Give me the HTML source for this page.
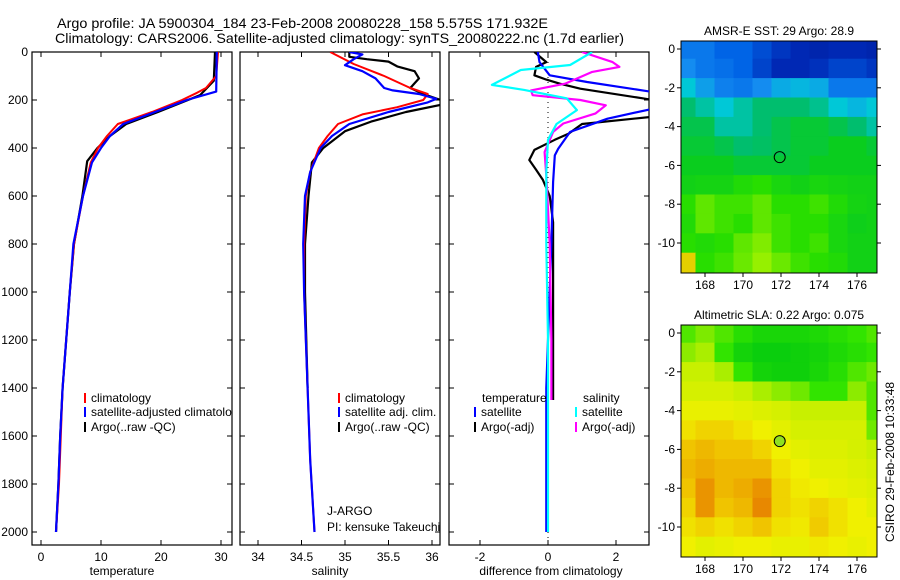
<!DOCTYPE html>
<html><head><meta charset="utf-8"><style>
html,body{margin:0;padding:0;background:#fff}
svg{display:block;font-family:"Liberation Sans",sans-serif}
</style></head><body>
<svg id="fig" width="900" height="580" viewBox="0 0 900 580" xmlns="http://www.w3.org/2000/svg">
<text x="57" y="28" font-size="14" textLength="491" lengthAdjust="spacingAndGlyphs">Argo profile: JA 5900304_184 23-Feb-2008 20080228_158 5.575S 171.932E</text>
<text x="55" y="43" font-size="14" textLength="569" lengthAdjust="spacingAndGlyphs">Climatology: CARS2006. Satellite-adjusted climatology: synTS_20080222.nc (1.7d earlier)</text>
<g id="plots"></g>
<text transform="translate(894,462) rotate(-90)" font-size="12" text-anchor="middle">CSIRO 29-Feb-2008 10:33:48</text>
</svg>
<script>
// ---- profile data (depth dbar, value) ----
const tempClimDepth=[0,100,150,170,200,250,300,350,400,460,600,800,1000,1200,1400,1600,1800,2000];
const tempClimVal=[29.5,29.2,27.5,26,23.5,18.5,12.8,11,9.5,8.3,7,5.5,4.8,4.2,3.6,3.3,3,2.5];
const tempSatDepth=[0,165,200,250,300,350,400,460,600,800,1000,1200,1400,1600,1800,2000];
const tempSatVal=[29.3,29.2,24.3,19,13.7,11.5,10,8.5,7,5.4,4.8,4.2,3.6,3.2,2.9,2.5];
const tempArgoDepth=[0,120,180,200,250,300,350,400,455,600,800,1000,1200,1400,1600,1800,2000];
const tempArgoVal=[29,28.8,26.5,24.5,19.5,14.2,11.5,9.4,7.7,6.9,5.5,4.8,4.2,3.6,3.2,2.9,2.5];

const salClimDepth=[0,50,100,150,175,200,230,260,300,350,400,500,600,800,1000,1400,1700,2000];
const salClimVal=[34.83,35.1,35.45,35.75,35.95,35.9,35.6,35.2,34.92,34.8,34.7,34.6,34.55,34.53,34.53,34.57,34.6,34.65];
const salSatDepth=[0,10,30,55,80,110,150,160,175,195,210,250,300,350,400,500,600,800,1000,1400,1700,2000];
const salSatVal=[35.05,35.2,35.1,35.0,35.2,35.35,35.45,35.55,35.85,36.05,35.95,35.5,35.05,34.85,34.72,34.6,34.54,34.52,34.53,34.57,34.6,34.65];
const salArgoDepth=[0,20,30,40,60,80,110,150,175,200,220,250,290,330,400,460,600,800,1000,1400];
const salArgoVal=[35.05,35.05,35.25,35.5,35.6,35.8,35.85,35.75,35.9,36.1,36.1,35.7,35.3,35.0,34.75,34.62,34.58,34.54,34.54,34.57];

const dTempSatDepth=[0,42,97,125,167,236,278,333,403,431,542,792,1000,1400,2000];
const dTempSatVal=[-0.3,-0.25,0.05,1.15,3.1,3.1,1.75,0.65,0.3,0.2,0.15,0.1,0.05,-0.05,-0.05];
const dTempArgoDepth=[0,42,62,97,115,132,153,200,271,300,341,366,408,450,491,533,600,710,1000,1450];
const dTempArgoVal=[-0.4,-0.05,-0.35,-0.4,-0.05,0.35,0.95,3.1,3.0,1.0,0.6,0.2,-0.4,-0.55,-0.35,-0.15,0.05,0.15,0.15,0.15];
const dSalSatDepth=[0,54,75,137,158,193,242,300,366,500,800,1200,1600,2000];
const dSalSatVal=[1.3,0.65,-0.8,-1.65,-0.7,0.55,0.85,0.25,0,-0.05,-0.05,0,0,0];
const dSalArgoDepth=[0,42,62,83,132,160,180,200,222,256,298,333,417,514,800,1200,1450];
const dSalArgoVal=[1.0,1.9,2.1,1.3,0.5,-0.5,-0.45,0.95,1.7,1.4,0.45,0.15,-0.1,-0.05,0.05,0.1,0.1];

const depthTicks=[0,200,400,600,800,1000,1200,1400,1600,1800,2000];
const tempTicks=[0,10,20,30];
const salTicks=[34,34.5,35,35.5,36];
const diffTicks=[-2,0,2];

// ---- map data (1-degree cells, rows lat 0..-11, cols lon 167..177), normalised colour value ----
const mapLons=[167,168,169,170,171,172,173,174,175,176,177];
const mapLats=[0,-1,-2,-3,-4,-5,-6,-7,-8,-9,-10,-11];
const sstGrid=[
[0.3,0.3,0.25,0.25,0.2,0.15,0.12,0.1,0.12,0.12,0.1],
[0.35,0.3,0.28,0.25,0.18,0.12,0.12,0.14,0.18,0.18,0.15],
[0.45,0.38,0.32,0.3,0.35,0.4,0.42,0.4,0.3,0.3,0.3],
[0.55,0.5,0.45,0.5,0.55,0.55,0.55,0.52,0.45,0.42,0.45],
[0.58,0.58,0.5,0.5,0.55,0.58,0.6,0.6,0.58,0.55,0.5],
[0.6,0.6,0.58,0.55,0.56,0.58,0.6,0.6,0.62,0.62,0.6],
[0.62,0.62,0.62,0.6,0.6,0.6,0.6,0.62,0.62,0.62,0.62],
[0.64,0.65,0.65,0.68,0.7,0.66,0.64,0.66,0.65,0.64,0.64],
[0.7,0.75,0.72,0.72,0.75,0.7,0.7,0.72,0.68,0.65,0.64],
[0.68,0.75,0.72,0.7,0.75,0.72,0.7,0.7,0.66,0.63,0.64],
[0.7,0.68,0.7,0.75,0.78,0.72,0.7,0.72,0.66,0.64,0.64],
[0.92,0.7,0.72,0.76,0.8,0.76,0.72,0.7,0.68,0.64,0.64]];
const slaGrid=[
[0.72,0.75,0.72,0.68,0.65,0.65,0.65,0.66,0.68,0.7,0.72],
[0.76,0.78,0.7,0.64,0.62,0.62,0.63,0.64,0.66,0.68,0.7],
[0.8,0.8,0.78,0.7,0.64,0.63,0.63,0.65,0.68,0.72,0.74],
[0.82,0.82,0.82,0.8,0.78,0.76,0.74,0.7,0.7,0.76,0.72],
[0.85,0.85,0.85,0.84,0.83,0.82,0.8,0.8,0.8,0.8,0.72],
[0.88,0.9,0.9,0.88,0.86,0.84,0.82,0.82,0.82,0.82,0.74],
[0.92,0.93,0.92,0.92,0.9,0.86,0.84,0.83,0.83,0.82,0.8],
[0.93,0.94,0.93,0.93,0.93,0.88,0.86,0.84,0.84,0.83,0.82],
[0.92,0.96,0.93,0.94,0.96,0.9,0.87,0.86,0.85,0.84,0.83],
[0.9,0.96,0.92,0.93,0.97,0.9,0.88,0.9,0.88,0.86,0.84],
[0.88,0.9,0.88,0.9,0.92,0.88,0.87,0.91,0.88,0.86,0.86],
[0.86,0.84,0.85,0.86,0.86,0.85,0.85,0.87,0.86,0.85,0.86]];
const lonTicks=[168,170,172,174,176];
const latTicks=[0,-2,-4,-6,-8,-10];
const floatLon=171.932, floatLat=-5.575;

const NS='http://www.w3.org/2000/svg';
const root=document.getElementById('plots');
function mk(tag,attrs,parent){const e=document.createElementNS(NS,tag);for(const k in attrs)e.setAttribute(k,attrs[k]);(parent||root).appendChild(e);return e;}

const yD=d=>52+0.24*d;
const PT=52,PB=545;
const panels=[
 {x0:32,x1:232,sx:v=>41+6*v,ticks:tempTicks,label:'temperature',name:'temperature-panel'},
 {x0:240,x1:440,sx:v=>258+87*(v-34),ticks:salTicks,label:'salinity',name:'salinity-panel'},
 {x0:449,x1:649,sx:v=>548+34*v,ticks:diffTicks,label:'difference from climatology',name:'difference-panel'}
];
function line(depths,vals,sx,color,w,name,g,clip){
  const pts=depths.map((d,i)=>sx(vals[i]).toFixed(1)+','+yD(d).toFixed(1)).join(' ');
  const p=mk('polyline',{points:pts,fill:'none',stroke:color,'stroke-width':w,'stroke-linejoin':'round'},g);
  if(clip)p.setAttribute('clip-path',clip);
  
  
}
const defs=mk('defs',{});
panels.forEach((P,i)=>{
  const cp=mk('clipPath',{id:'cp'+i},defs);mk('rect',{x:P.x0,y:PT,width:P.x1-P.x0,height:PB-PT},cp);
});
panels.forEach((P,i)=>{
  const g=mk('g',{});
  
  
  mk('rect',{x:P.x0,y:PT,width:P.x1-P.x0,height:PB-PT,fill:'#fff',stroke:'#000','stroke-width':1.2},g);
  depthTicks.forEach(d=>{
    mk('line',{x1:P.x0,x2:P.x0+5,y1:yD(d),y2:yD(d),stroke:'#000'},g);
    mk('line',{x1:P.x1-5,x2:P.x1,y1:yD(d),y2:yD(d),stroke:'#000'},g);
    if(i===0){const t=mk('text',{x:28,y:yD(d)+4,'font-size':12,'text-anchor':'end'},g);t.textContent=d;
      }
  });
  P.ticks.forEach(v=>{
    const x=P.sx(v);
    mk('line',{x1:x,x2:x,y1:PB,y2:PB-5,stroke:'#000'},g);
    mk('line',{x1:x,x2:x,y1:PT,y2:PT+5,stroke:'#000'},g);
    const t=mk('text',{x:x,y:PB+16,'font-size':12,'text-anchor':'middle'},g);t.textContent=v;
    
  });
  const t=mk('text',{x:(P.x0+P.x1)/2-(i==2?-2:10),y:PB+30,'font-size':12,'text-anchor':'middle'},g);t.textContent=P.label;
  
});
// series
const c='url(#cp0)',c1='url(#cp1)',c2='url(#cp2)';
line(tempArgoDepth,tempArgoVal,panels[0].sx,'#000',2.2,'temp-argo-line',root,c);
line(tempClimDepth,tempClimVal,panels[0].sx,'#f00',2,'temp-climatology-line',root,c);
line(tempSatDepth,tempSatVal,panels[0].sx,'#00f',2.2,'temp-satellite-line',root,c);
line(salArgoDepth,salArgoVal,panels[1].sx,'#000',2.2,'sal-argo-line',root,c1);
line(salClimDepth,salClimVal,panels[1].sx,'#f00',2,'sal-climatology-line',root,c1);
line(salSatDepth,salSatVal,panels[1].sx,'#00f',2.2,'sal-satellite-line',root,c1);
mk('line',{x1:548,x2:548,y1:PT,y2:PB,stroke:'#000','stroke-dasharray':'1,4'});
line(dTempArgoDepth,dTempArgoVal,panels[2].sx,'#000',2.2,'diff-temp-argo-line',root,c2);
line(dTempSatDepth,dTempSatVal,panels[2].sx,'#00f',2.2,'diff-temp-satellite-line',root,c2);
line(dSalArgoDepth,dSalArgoVal,panels[2].sx,'#f0f',2.2,'diff-sal-argo-line',root,c2);
line(dSalSatDepth,dSalSatVal,panels[2].sx,'#0ff',2.2,'diff-sal-satellite-line',root,c2);

// legends
function legend(mx,y,color,text,clip){
  const g=mk('g',{});
  
  
  if(color)mk('line',{x1:mx,x2:mx,y1:y-9,y2:y+1,stroke:color,'stroke-width':2},g);
  const t=mk('text',{x:color?mx+6:mx,y:y,'font-size':12},g);t.textContent=text;
  if(clip)g.setAttribute('clip-path',clip);
}
legend(85,402,'#f00','climatology');legend(85,416,'#00f','satellite-adjusted climatology',c);legend(85,431,'#000','Argo(..raw -QC)');
legend(339,402,'#f00','climatology');legend(339,416,'#00f','satellite adj. clim.');legend(339,431,'#000','Argo(..raw -QC)');
legend(482,402,null,'temperature');legend(475,416,'#00f','satellite');legend(475,431,'#000','Argo(-adj)');
legend(583,402,null,'salinity');legend(576,416,'#0ff','satellite');legend(576,431,'#f0f','Argo(-adj)');
[['J-ARGO',515],['PI: kensuke Takeuchi',531]].forEach(([s,y])=>{const t=mk('text',{x:327,y:y,'font-size':12});t.textContent=s;
 });

// maps
const sstStops=[[0,[0,20,140]],[0.12,[0,40,180]],[0.25,[0,100,230]],[0.35,[20,140,240]],[0.45,[0,200,215]],[0.55,[0,190,110]],[0.62,[10,205,30]],[0.7,[40,222,0]],[0.8,[150,240,0]],[0.9,[230,240,0]],[1,[220,80,0]]];
const slaStops=[[0.6,[0,200,16]],[0.7,[50,228,0]],[0.8,[200,240,0]],[0.86,[240,240,0]],[0.92,[240,196,0]],[0.97,[232,136,0]],[1,[220,110,0]]];
function col(v,stops){
  if(v<=stops[0][0])return 'rgb('+stops[0][1]+')';
  for(let i=1;i<stops.length;i++){if(v<=stops[i][0]){const a=stops[i-1],b=stops[i],f=(v-a[0])/(b[0]-a[0]);
    return 'rgb('+a[1].map((c,k)=>Math.round(c+(b[1][k]-c)*f)).join(',')+')';}}
  return 'rgb('+stops[stops.length-1][1]+')';
}
function drawMap(top,bottom,lat0y,grid,stops,title,name,fillCircle){
  const X0=681,X1=877;
  const sx=lon=>705+19*(lon-168), sy=lat=>lat0y-19.4*lat;
  const g=mk('g',{});
  
  
  const id='mc'+name;const cp=mk('clipPath',{id:id},defs);mk('rect',{x:X0,y:top,width:X1-X0,height:bottom-top},cp);
  const cells=mk('g',{'clip-path':'url(#'+id+')'},g);
  grid.forEach((row,r)=>row.forEach((v,k)=>{
    const x=sx(mapLons[k]-0.5),y=sy(mapLats[r]+0.5);
    const rc=mk('rect',{x:x.toFixed(1),y:y.toFixed(1),width:19.6,height:20,fill:col(v,stops)},cells);
    
    
  }));
  mk('rect',{x:X0,y:top,width:X1-X0,height:bottom-top,fill:'none',stroke:'#000'},g);
  lonTicks.forEach(l=>{const x=sx(l);mk('line',{x1:x,x2:x,y1:bottom,y2:bottom+4,stroke:'#000'},g);
    const t=mk('text',{x:x,y:bottom+16,'font-size':12,'text-anchor':'middle'},g);t.textContent=l;
    });
  latTicks.forEach(l=>{const y=sy(l);mk('line',{x1:X0-4,x2:X0,y1:y,y2:y,stroke:'#000'},g);mk('line',{x1:X1,x2:X1+4,y1:y,y2:y,stroke:'#000'},g);
    const t=mk('text',{x:X0-6,y:y+4,'font-size':12,'text-anchor':'end'},g);t.textContent=l;
    });
  const t=mk('text',{x:779,y:top-6,'font-size':12,'text-anchor':'middle'},g);t.textContent=title;
  
  const ci=mk('circle',{cx:sx(floatLon),cy:sy(floatLat),r:5.5,fill:fillCircle||'none',stroke:'#000','stroke-width':1},g);
  
  
}
drawMap(41,273,49,sstGrid,sstStops,'AMSR-E SST: 29 Argo: 28.9','sst-map');
drawMap(325,557,333,slaGrid,slaStops,'Altimetric SLA: 0.22 Argo: 0.075','sla-map','#90e020');
</script>
</body></html>
